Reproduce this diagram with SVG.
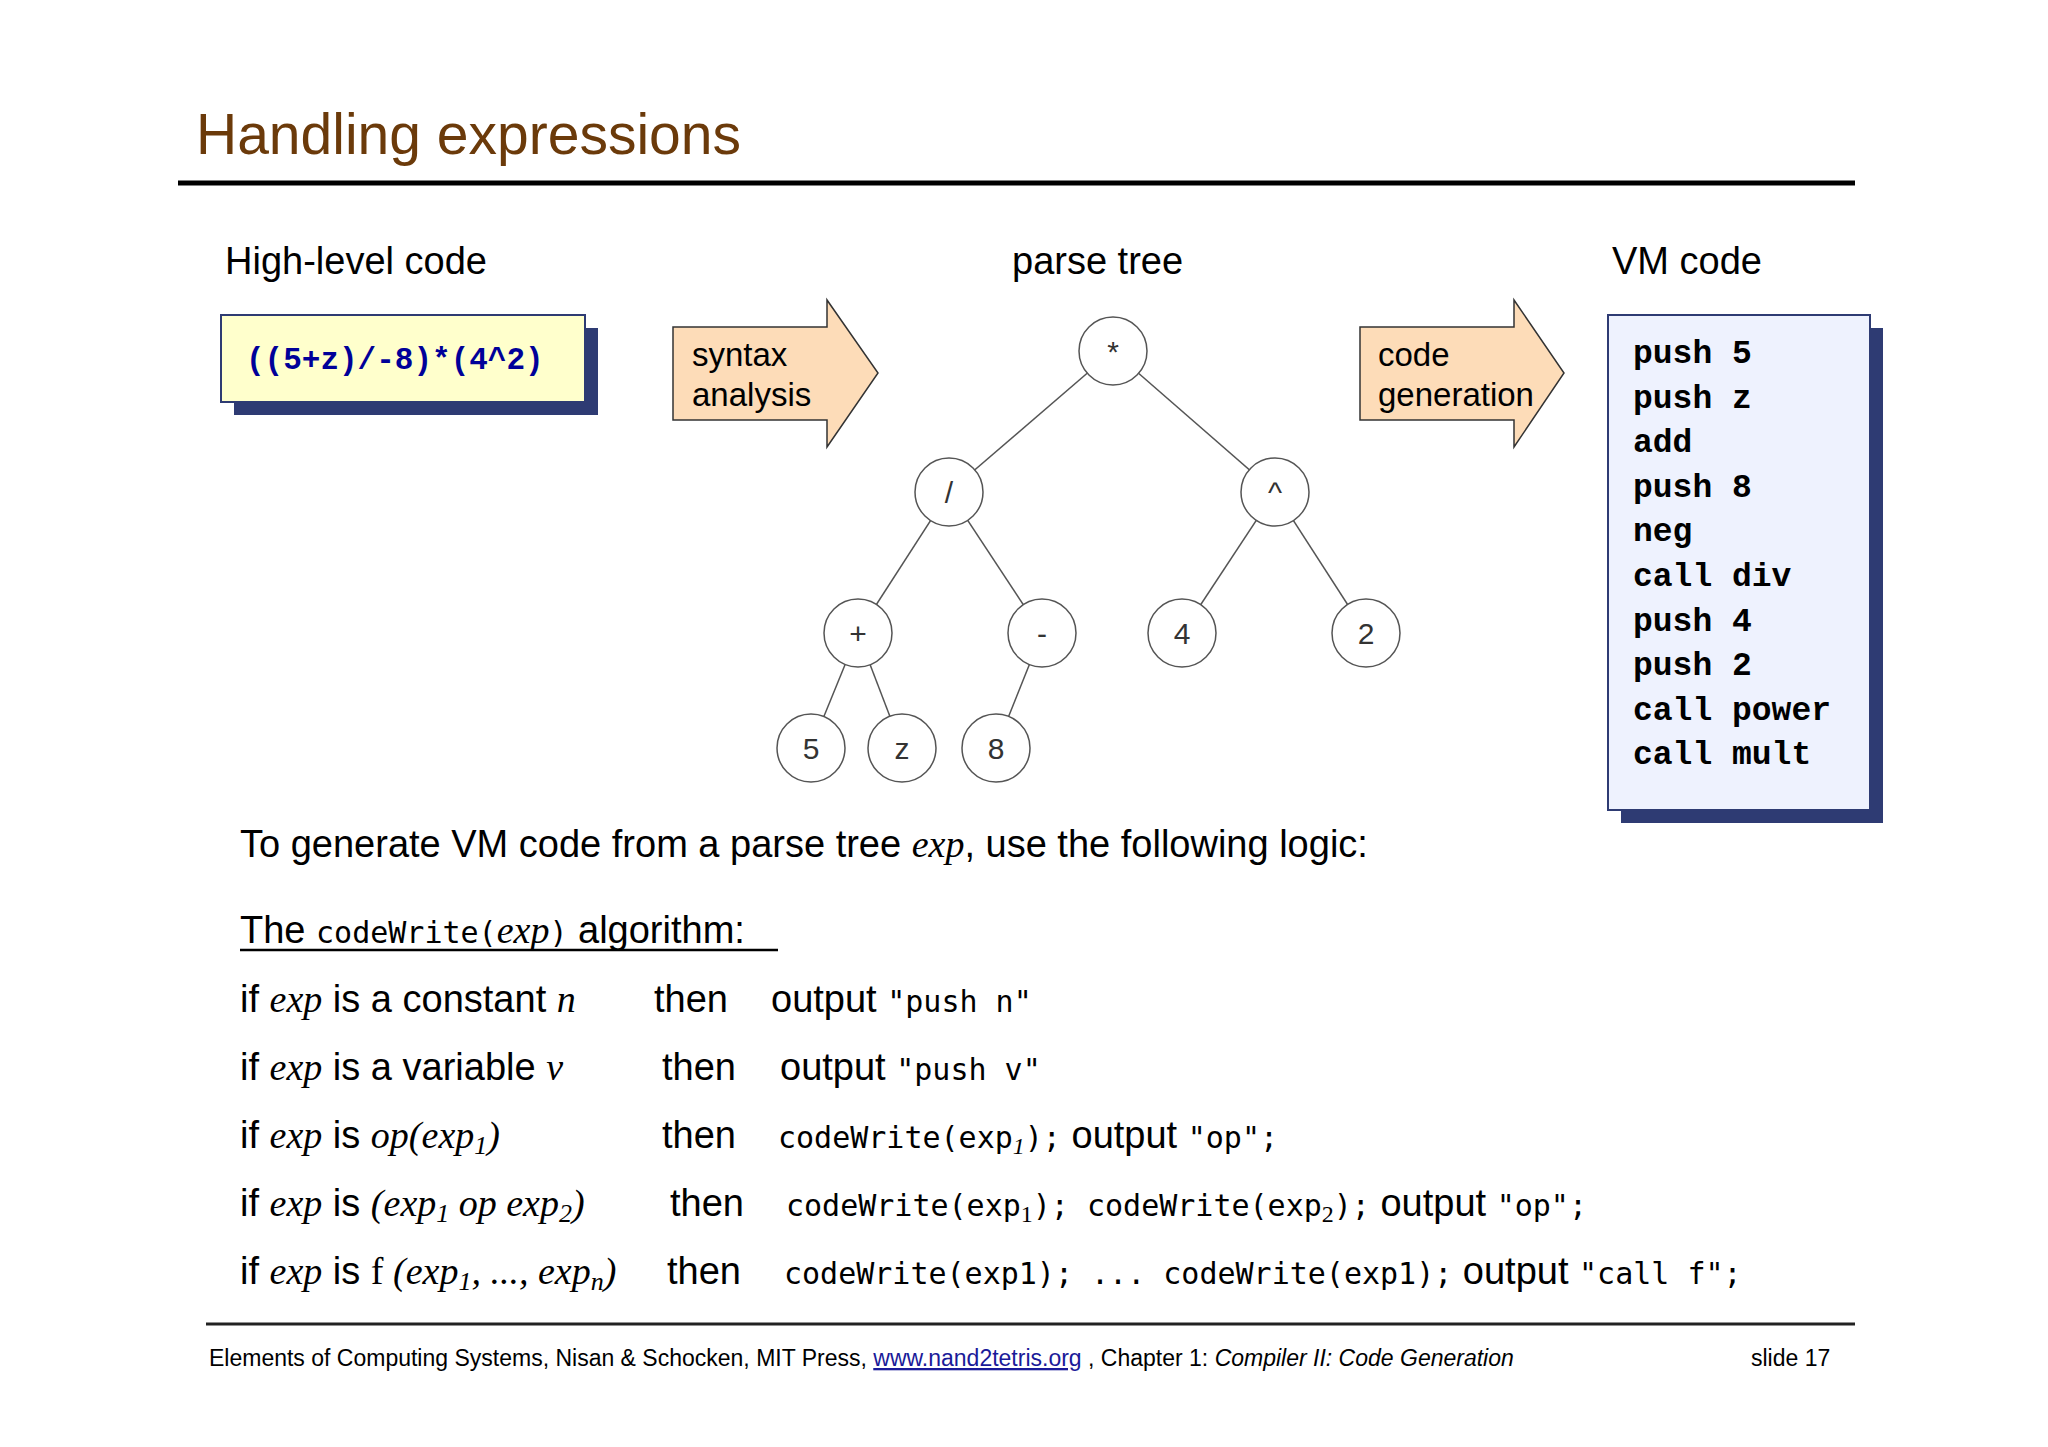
<svg xmlns="http://www.w3.org/2000/svg" width="2048" height="1447" viewBox="0 0 2048 1447">
<style>
.s{font-family:"Liberation Sans",Arial,sans-serif}
.h{font-family:"Liberation Sans",Arial,sans-serif;font-size:38px;fill:#000}
.m{font-family:"DejaVu Sans Mono",monospace;font-size:30px}
.it{font-family:"Liberation Serif",serif;font-style:italic}
.vm{font-family:"Liberation Mono",monospace;font-weight:bold;font-size:33px;fill:#000}
.c circle{fill:#fff;stroke:#555;stroke-width:1.5}
.c text{font-family:"Liberation Sans",Arial,sans-serif;font-size:30px;text-anchor:middle;fill:#333}
.arr{fill:#FDDCB8;stroke:#333;stroke-width:1.5}
.at{font-family:"Liberation Sans",Arial,sans-serif;font-size:33px;fill:#000}
</style>
<rect width="2048" height="1447" fill="#fff"/>
<text x="196" y="154" class="s" font-size="57" fill="#6B3A0A">Handling expressions</text>
<line x1="178" y1="183" x2="1855" y2="183" stroke="#000" stroke-width="5"/>
<text x="225" y="274" class="h">High-level code</text>
<text x="1012" y="274" class="h">parse tree</text>
<text x="1612" y="274" class="h">VM code</text>
<g id="hl">
<rect x="234" y="328" width="364" height="87" fill="#2E3B73"/>
<rect x="221" y="315" width="364" height="87" fill="#FFFFCC" stroke="#2E3B73" stroke-width="2"/>
<text x="246" y="369" font-family="Liberation Mono,monospace" font-weight="bold" font-size="31" fill="#000099">((5+z)/-8)*(4^2)</text>
</g>
<g id="arrow1">
<path class="arr" d="M673,327 H827 V300 L878,373 L827,447 V420 H673 Z"/>
<text x="692" y="366" class="at">syntax</text>
<text x="692" y="406" class="at">analysis</text>
</g>
<g id="arrow2">
<path class="arr" d="M1360,327 H1514 V300 L1564,373 L1514,447 V420 H1360 Z"/>
<text x="1378" y="366" class="at">code</text>
<text x="1378" y="406" class="at">generation</text>
</g>
<g id="edges" stroke="#555" stroke-width="1.5">
<line x1="1113" y1="351" x2="949" y2="492"/>
<line x1="1113" y1="351" x2="1275" y2="492"/>
<line x1="949" y1="492" x2="858" y2="633"/>
<line x1="949" y1="492" x2="1042" y2="633"/>
<line x1="1275" y1="492" x2="1182" y2="633"/>
<line x1="1275" y1="492" x2="1366" y2="633"/>
<line x1="858" y1="633" x2="811" y2="748"/>
<line x1="858" y1="633" x2="902" y2="748"/>
<line x1="1042" y1="633" x2="996" y2="748"/>
</g>
<g class="c">
<g id="n-mul"><circle cx="1113" cy="351" r="34"/><text x="1113" y="362">*</text></g>
<g id="n-div"><circle cx="949" cy="492" r="34"/><text x="949" y="503">/</text></g>
<g id="n-pow"><circle cx="1275" cy="492" r="34"/><text x="1275" y="503">^</text></g>
<g id="n-plus"><circle cx="858" cy="633" r="34"/><text x="858" y="644">+</text></g>
<g id="n-neg"><circle cx="1042" cy="633" r="34"/><text x="1042" y="644">-</text></g>
<g id="n-4"><circle cx="1182" cy="633" r="34"/><text x="1182" y="644">4</text></g>
<g id="n-2"><circle cx="1366" cy="633" r="34"/><text x="1366" y="644">2</text></g>
<g id="n-5"><circle cx="811" cy="748" r="34"/><text x="811" y="759">5</text></g>
<g id="n-z"><circle cx="902" cy="748" r="34"/><text x="902" y="759">z</text></g>
<g id="n-8"><circle cx="996" cy="748" r="34"/><text x="996" y="759">8</text></g>
</g>
<g id="vm">
<rect x="1621" y="328" width="262" height="495" fill="#2E3B73"/>
<rect x="1608" y="315" width="262" height="495" fill="#EEF2FE" stroke="#2E3B73" stroke-width="2"/>
<text class="vm"><tspan x="1633" y="363">push 5</tspan><tspan x="1633" y="408">push z</tspan><tspan x="1633" y="452">add</tspan><tspan x="1633" y="497">push 8</tspan><tspan x="1633" y="541">neg</tspan><tspan x="1633" y="586">call div</tspan><tspan x="1633" y="631">push 4</tspan><tspan x="1633" y="675">push 2</tspan><tspan x="1633" y="720">call power</tspan><tspan x="1633" y="764">call mult</tspan></text>
</g>
<text x="240" y="857" class="h">To generate VM code from a parse tree <tspan class="it">exp</tspan>, use the following logic:</text>
<text x="240" y="943" class="h">The <tspan class="m">codeWrite(</tspan><tspan class="it">exp</tspan><tspan class="m">)</tspan> algorithm:</text>
<line x1="240" y1="950" x2="778" y2="950" stroke="#000" stroke-width="2.5"/>
<text x="240" y="1012" class="h">if <tspan class="it">exp</tspan> is a constant <tspan class="it">n</tspan></text>
<text x="654" y="1012" class="h">then</text>
<text x="771" y="1012" class="h">output <tspan class="m">"push n"</tspan></text>
<text x="240" y="1080" class="h">if <tspan class="it">exp</tspan> is a variable <tspan class="it">v</tspan></text>
<text x="662" y="1080" class="h">then</text>
<text x="780" y="1080" class="h">output <tspan class="m">"push v"</tspan></text>
<text x="240" y="1148" class="h">if <tspan class="it">exp</tspan> is <tspan class="it">op</tspan><tspan class="it">(exp</tspan><tspan class="it" font-size="26" dy="6">1</tspan><tspan class="it" dy="-6">)</tspan></text>
<text x="662" y="1148" class="h">then</text>
<text x="778" y="1148" class="h"><tspan class="m">codeWrite(exp</tspan><tspan class="it" font-size="24" dy="6">1</tspan><tspan class="m" dy="-6">);</tspan> output <tspan class="m">"op";</tspan></text>
<text x="240" y="1216" class="h">if <tspan class="it">exp</tspan> is <tspan class="it">(exp</tspan><tspan class="it" font-size="26" dy="6">1</tspan><tspan class="it" dy="-6"> op exp</tspan><tspan class="it" font-size="26" dy="6">2</tspan><tspan class="it" dy="-6">)</tspan></text>
<text x="670" y="1216" class="h">then</text>
<text x="786" y="1216" class="h"><tspan class="m">codeWrite(exp</tspan><tspan font-family="Liberation Serif" font-size="24" dy="6">1</tspan><tspan class="m" dy="-6">); codeWrite(exp</tspan><tspan font-family="Liberation Serif" font-size="24" dy="6">2</tspan><tspan class="m" dy="-6">);</tspan> output <tspan class="m">"op";</tspan></text>
<text x="240" y="1284" class="h">if <tspan class="it">exp</tspan> is <tspan font-family="Liberation Serif">f</tspan><tspan class="it"> (exp</tspan><tspan class="it" font-size="26" dy="6">1</tspan><tspan class="it" dy="-6">, ..., exp</tspan><tspan class="it" font-size="26" dy="6">n</tspan><tspan class="it" dy="-6">)</tspan></text>
<text x="667" y="1284" class="h">then</text>
<text x="784" y="1284" class="h"><tspan class="m">codeWrite(exp1); ... codeWrite(exp1);</tspan> output <tspan class="m">"call f";</tspan></text>
<line x1="206" y1="1324" x2="1855" y2="1324" stroke="#222" stroke-width="3"/>
<text x="209" y="1366" class="s" font-size="23" fill="#000">Elements of Computing Systems, Nisan &amp; Schocken, MIT Press,  <tspan fill="#1a1a99" text-decoration="underline">www.nand2tetris.org</tspan> , Chapter 1: <tspan font-style="italic">Compiler II: Code Generation</tspan></text>
<text x="1751" y="1366" class="s" font-size="23" fill="#000">slide 17</text>
</svg>
